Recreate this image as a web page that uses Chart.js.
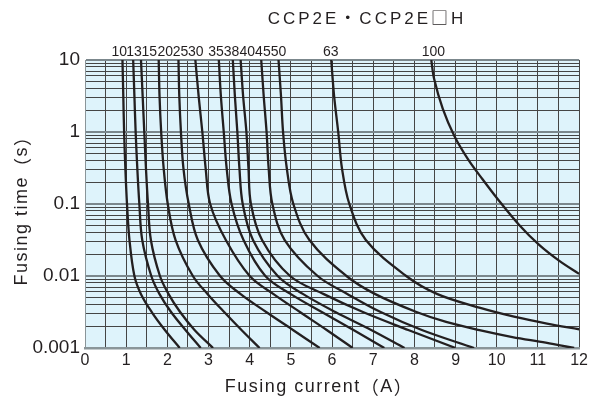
<!DOCTYPE html>
<html><head><meta charset="utf-8">
<script src="https://cdn.jsdelivr.net/npm/chart.js@4.4.1/dist/chart.umd.min.js"></script>
<style>html,body{margin:0;padding:0;background:#fff;}#wrap{width:591px;height:401px;}</style>
</head><body><div id="wrap"><canvas id="c" width="591" height="401"></canvas></div>
<script>
const chartTitle = 'CCP2E・CCP2E□H';
const xAxisTitle = 'Fusing current（A）';
const yAxisTitle = 'Fusing time（s）';
const ratings = ['10','13','15','20','25','30','35','38','40','45','50','63','100'];
const ratingLabelX = [0.83,1.19,1.56,1.95,2.32,2.69,3.18,3.56,3.94,4.32,4.70,5.97,8.46];
const yDecadeLabels = [0.001,0.01,0.1,1,10];
const xTickLabels = [0,1,2,3,4,5,6,7,8,9,10,11,12];

// [current (A), time (s)]
const c10 = [[0.91,10],[0.93,3.16],[0.95,1],[0.98,0.316],[1.02,0.1],[1.08,0.0316],[1.20,0.01],[1.36,0.0056],[1.62,0.00316],[1.94,0.00178],[2.30,0.001]];
const c13 = [[1.17,10],[1.20,3.16],[1.23,1],[1.27,0.316],[1.32,0.1],[1.39,0.0316],[1.61,0.01],[1.81,0.0056],[2.09,0.00316],[2.44,0.00178],[2.81,0.001]];
const c15 = [[1.36,10],[1.40,3.16],[1.44,1],[1.48,0.316],[1.53,0.1],[1.60,0.0316],[1.82,0.01],[2.03,0.0056],[2.31,0.00316],[2.66,0.00178],[3.11,0.001]];
const c20 = [[1.79,10],[1.81,3.16],[1.85,1],[1.91,0.316],[2.01,0.1],[2.20,0.0316],[2.62,0.01],[2.98,0.0056],[3.38,0.00316],[3.80,0.00178],[4.24,0.001]];
const c25 = [[2.27,10],[2.29,3.16],[2.33,1],[2.39,0.316],[2.52,0.1],[2.74,0.0316],[3.28,0.01],[3.78,0.0056],[4.40,0.00316],[5.05,0.00178],[5.70,0.001]];
const c30 = [[2.68,10],[2.76,3.16],[2.85,1],[2.93,0.316],[3.04,0.1],[3.42,0.0316],[4.00,0.01],[4.58,0.0056],[5.22,0.00316],[5.87,0.00178],[6.50,0.001]];
const c35 = [[3.25,10],[3.30,3.16],[3.37,1],[3.44,0.316],[3.56,0.1],[3.85,0.0316],[4.38,0.01],[5.00,0.0056],[5.75,0.00316],[6.52,0.00178],[7.27,0.001]];
const c38 = [[3.59,10],[3.64,3.16],[3.70,1],[3.75,0.316],[3.83,0.1],[4.08,0.0316],[4.68,0.01],[5.30,0.0056],[6.08,0.00316],[6.95,0.00178],[7.76,0.001]];
const c40 = [[3.78,10],[3.84,3.16],[3.92,1],[3.97,0.316],[4.03,0.1],[4.30,0.0316],[4.98,0.01],[5.80,0.0056],[6.75,0.00316],[7.85,0.00178],[9.00,0.001]];
const c45 = [[4.28,10],[4.34,3.16],[4.41,1],[4.46,0.316],[4.55,0.1],[4.85,0.0316],[5.65,0.01],[6.38,0.0056],[7.18,0.00316],[8.18,0.00178],[9.45,0.001]];
const c50 = [[4.70,10],[4.76,3.16],[4.81,1],[4.90,0.316],[5.06,0.1],[5.45,0.0316],[6.35,0.01],[7.05,0.0056],[8.05,0.00316],[8.77,0.0023],[9.58,0.00177],[10.38,0.00142],[11.19,0.00119],[11.88,0.001]];
const c63 = [[5.98,10],[6.05,3.16],[6.15,1],[6.24,0.316],[6.42,0.1],[6.82,0.0316],[7.80,0.01],[8.56,0.0056],[9.60,0.0036],[10.42,0.00272],[11.22,0.00218],[12.00,0.00182]];
const c100 = [[8.41,10],[8.48,5.45],[8.69,2.09],[8.97,0.88],[9.30,0.42],[9.65,0.2225],[10.06,0.110],[10.545,0.0511],[11.03,0.0270],[11.52,0.0162],[12.00,0.0107]];

const curves = [c10,c13,c15,c20,c25,c30,c35,c38,c40,c45,c50,c63,c100];

const LATIN = '"Liberation Sans", Arial, sans-serif';
const CJK = '"Noto Sans CJK JP", sans-serif';
const INK = '#231f20';

const isDecade = v => Math.abs(Math.log10(v) - Math.round(Math.log10(v))) < 1e-6;

const bgPlugin = {
  id: 'bg',
  beforeDraw(chart) {
    const {ctx, chartArea: a} = chart;
    ctx.save();
    ctx.fillStyle = '#ffffff';
    ctx.fillRect(0, 0, chart.width, chart.height);
    ctx.fillStyle = '#def3fb';
    ctx.fillRect(a.left, a.top, a.right - a.left, a.bottom - a.top);
    ctx.restore();
  }
};

function drawMixed(ctx, text, cx, y, size, spacing) {
  // full-width symbols use the CJK font, the rest the Latin font
  const runs = [];
  for (const ch of text) {
    const cjk = /[・□（）]/.test(ch);
    if (runs.length && runs[runs.length - 1].cjk === cjk) runs[runs.length - 1].s += ch;
    else runs.push({s: ch, cjk});
  }
  try { ctx.letterSpacing = spacing + 'px'; } catch (e) {}
  let total = 0;
  runs.forEach(r => { ctx.font = size + 'px ' + (r.cjk ? CJK : LATIN); r.w = ctx.measureText(r.s).width; total += r.w; });
  let x = cx - total / 2;
  ctx.textAlign = 'left';
  runs.forEach(r => { ctx.font = size + 'px ' + (r.cjk ? CJK : LATIN); ctx.fillText(r.s, x, y); x += r.w; });
  try { ctx.letterSpacing = '0px'; } catch (e) {}
}

const textPlugin = {
  id: 'texts',
  afterDraw(chart) {
    const {ctx, chartArea: a, scales: {x}} = chart;
    ctx.save();
    ctx.fillStyle = INK;
    ctx.textAlign = 'center';
    ctx.textBaseline = 'alphabetic';
    ctx.font = '14px ' + LATIN;
    ratings.forEach((r, i) => ctx.fillText(r, x.getPixelForValue(ratingLabelX[i]), a.top - 4));
    drawMixed(ctx, chartTitle, a.left + 282, 24, 17, 3);
    ctx.textBaseline = 'middle';
    drawMixed(ctx, xAxisTitle, a.left + 234, 387, 18, 1.5);
    ctx.translate(22, a.top + 146);
    ctx.rotate(-Math.PI / 2);
    drawMixed(ctx, yAxisTitle, 0, 0, 18, 1.5);
    ctx.restore();
  }
};

new Chart(document.getElementById('c'), {
  type: 'scatter',
  data: {
    datasets: curves.map((c, i) => ({
      label: ratings[i],
      data: c.map(p => ({x: p[0], y: p[1]})),
      showLine: true,
      borderColor: INK,
      borderWidth: 2.3,
      pointRadius: 0,
      tension: 0.35,
      fill: false
    }))
  },
  options: {
    responsive: false,
    animation: false,
    devicePixelRatio: 1,
    layout: {padding: {left: 0, right: 11, top: 60, bottom: 0}},
    plugins: {legend: {display: false}, tooltip: {enabled: false}, title: {display: false}},
    scales: {
      x: {
        type: 'linear', min: 0, max: 12,
        afterBuildTicks(scale) {
          const t = [];
          for (let i = 0; i <= 24; i++) t.push({value: i / 2});
          scale.ticks = t;
        },
        afterFit(scale) { scale.height = 53; },
        ticks: {
          autoSkip: false, maxRotation: 0, padding: 3,
          color: INK, font: {family: LATIN, size: 16},
          callback: v => xTickLabels.includes(v) ? String(v) : ''
        },
        grid: {drawTicks: false, color: '#454545', lineWidth: 1},
        border: {display: true, color: '#8a9599', width: 2.5}
      },
      y: {
        type: 'logarithmic', min: 0.001, max: 10,
        afterBuildTicks(scale) {
          const t = [];
          for (let e = -3; e <= 0; e++) for (let m = 1; m <= 9; m++) t.push({value: +(m * Math.pow(10, e)).toPrecision(3)});
          t.push({value: 10});
          scale.ticks = t;
        },
        afterFit(scale) { scale.width = 85; },
        ticks: {
          autoSkip: false, padding: 5,
          color: INK, font: {family: LATIN, size: 19},
          callback: v => yDecadeLabels.some(d => Math.abs(d - v) / d < 1e-6) ? String(v) : ''
        },
        grid: {
          drawTicks: false,
          color: ctx => (ctx.tick && isDecade(ctx.tick.value)) ? '#7b878c' : '#454545',
          lineWidth: ctx => (ctx.tick && isDecade(ctx.tick.value)) ? 2 : 1
        },
        border: {display: true, color: '#8a9599', width: 1}
      }
    }
  },
  plugins: [bgPlugin, textPlugin]
});
</script>
</body></html>
